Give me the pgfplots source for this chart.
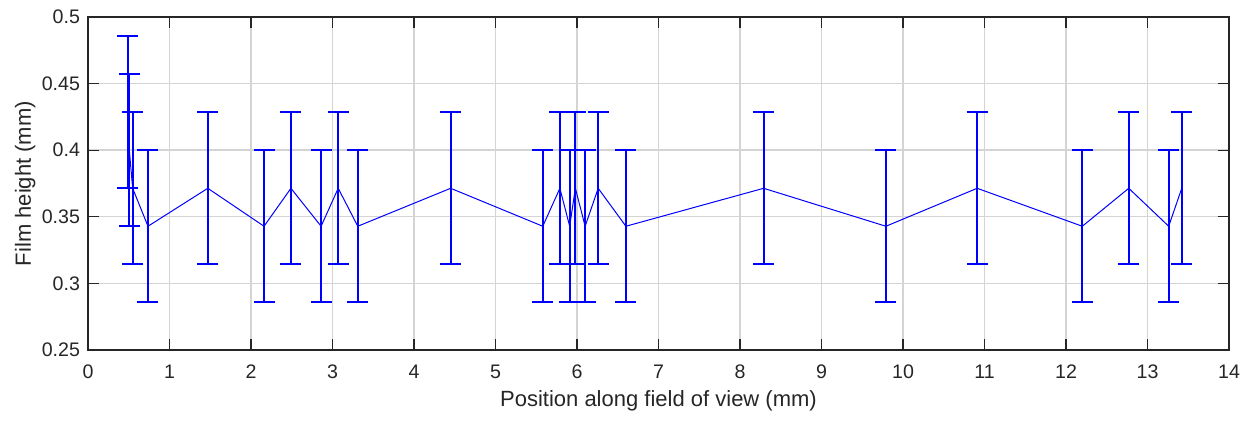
\documentclass[border=0pt]{standalone}
\usepackage{fontspec}
\setmainfont{Liberation Sans}
\usepackage{pgfplots}
\pgfplotsset{compat=1.18}
\usetikzlibrary{calc}
\definecolor{mblue}{RGB}{0,0,255}
\definecolor{axgray}{RGB}{38,38,38}
\begin{document}
\begin{tikzpicture}[x=1pt,y=1pt]
\begin{axis}[
  scale only axis,
  width=570.5pt, height=166.5pt,
  xmin=0, xmax=14, ymin=0.25, ymax=0.5,
  xtick={0,1,...,14},
  ytick={0.25,0.3,0.35,0.4,0.45,0.5},
  yticklabels={0.25,0.3,0.35,0.4,0.45,0.5},
  /pgf/number format/assume math mode=true,
  tick label style={font=\fontsize{9.8}{11}\selectfont, color=axgray},
  label style={font=\fontsize{11}{13}\selectfont, color=axgray},
  xticklabel shift=4pt,
  yticklabel shift=0.5pt,
  xlabel={Position along field of view (mm)},
  ylabel={Film height (mm)},
  xlabel style={at={(axis description cs:0.5,-0.153)}, anchor=center},
  ylabel style={at={(axis description cs:-0.055,0.5)}, anchor=center},
  grid=major,
  major grid style={line width=0.7pt, color=black!17},
  axis line style={color=axgray, line width=0.6pt},
  tick style={color=axgray, line width=0.6pt},
  tick align=inside,
  major tick length=5.5pt,
  xtick pos=both, ytick pos=both,
  clip=false,
]
\addplot[color=mblue, line width=0.5pt, mark=none,
  error bars/.cd, y dir=both, y explicit,
  error bar style={line width=1pt, color=mblue},
  error mark options={rotate=90, mark size=5.25pt, line width=1pt, color=mblue}]
  table[x=x, y=y, y error=e] {
x y e
0.490 0.4286 0.0571
0.507 0.4000 0.0571
0.548 0.3714 0.0571
0.736 0.3429 0.0571
1.470 0.3714 0.0571
2.160 0.3429 0.0571
2.490 0.3714 0.0571
2.860 0.3429 0.0571
3.070 0.3714 0.0571
3.310 0.3429 0.0571
4.450 0.3714 0.0571
5.580 0.3429 0.0571
5.790 0.3714 0.0571
5.910 0.3429 0.0571
5.980 0.3714 0.0571
6.100 0.3429 0.0571
6.260 0.3714 0.0571
6.600 0.3429 0.0571
8.290 0.3714 0.0571
9.790 0.3429 0.0571
10.91 0.3714 0.0571
12.20 0.3429 0.0571
12.77 0.3714 0.0571
13.26 0.3429 0.0571
13.42 0.3714 0.0571
};
\end{axis}
\pgfresetboundingbox
\path[use as bounding box] ($(current axis.south west)+(-44pt,-35.5pt)$) rectangle ($(current axis.north east)+(14pt,8.5pt)$);
\end{tikzpicture}
\end{document}
